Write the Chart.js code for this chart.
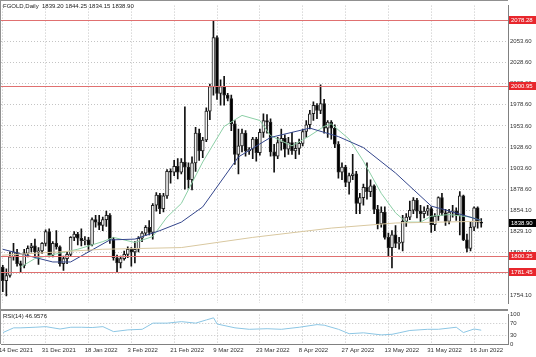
<!DOCTYPE html>
<html>
<head>
<meta charset="utf-8">
<script src="https://cdn.jsdelivr.net/npm/chart.js@4.4.1/dist/chart.umd.min.js"></script>
<style>
  html, body { margin: 0; padding: 0; background: #fff; }
  #wrap { position: relative; width: 536px; height: 357px; overflow: hidden; }
  #mainChart { position: absolute; left: 0; top: 0; }
  #rsiChart { position: absolute; left: 0; top: 309px; }
</style>
</head>
<body>
<div id="wrap">
  <canvas id="mainChart" width="536" height="309"></canvas>
  <canvas id="rsiChart" width="536" height="48"></canvas>
</div>
<script>
const xTickLabels = ["14 Dec 2021", "31 Dec 2021", "18 Jan 2022", "3 Feb 2022", "21 Feb 2022", "9 Mar 2022",
  "23 Mar 2022", "8 Apr 2022", "27 Apr 2022", "13 May 2022", "31 May 2022", "16 Jun 2022"];
const BARS_PER_LABEL = 12;
const EMPTY_SLOTS = 7;

// daily candles, 14 Dec 2021 .. 20 Jun 2022
const opens = [
  1787, 1771, 1777, 1799, 1804, 1791, 1789, 1803, 1810, 1812, 1805, 1806, 1815, 1829, 1801, 1815, 1811, 1791, 1797, 1802,
  1822, 1826, 1821, 1818, 1819, 1813, 1843, 1840, 1836, 1843, 1848, 1820, 1798, 1792, 1797, 1802, 1808, 1805, 1808, 1821,
  1827, 1834, 1828, 1860, 1872, 1856, 1871, 1900, 1899, 1906, 1899, 1911, 1905, 1890, 1910, 1945, 1924, 1937, 1971, 2000,
  2058, 1992, 2000, 1990, 1986, 1956, 1920, 1930, 1945, 1924, 1926, 1938, 1922, 1946, 1960, 1958, 1923, 1918, 1934, 1939,
  1926, 1934, 1924, 1927, 1933, 1947, 1955, 1968, 1978, 1972, 1980, 1951, 1958, 1951, 1932, 1899, 1905, 1887, 1895, 1897,
  1862, 1869, 1881, 1876, 1883, 1855, 1838, 1852, 1822, 1810, 1825, 1815, 1816, 1841, 1846, 1854, 1866, 1853, 1850, 1853,
  1856, 1837, 1847, 1869, 1851, 1841, 1852, 1853, 1848, 1871, 1819, 1809, 1834, 1857, 1839.20
];
const highs = [
  1789, 1785, 1805, 1815, 1808, 1794, 1808, 1812, 1815, 1820, 1810, 1816, 1831, 1832, 1817, 1830, 1812, 1800, 1805, 1823,
  1829, 1828, 1832, 1823, 1822, 1845, 1848, 1848, 1846, 1853, 1850, 1822, 1801, 1800, 1806, 1811, 1810, 1817, 1823, 1829,
  1836, 1842, 1862, 1875, 1874, 1874, 1902, 1903, 1913, 1915, 1915, 1976, 1910, 1917, 1952, 1950, 1940, 1975, 2003, 2078,
  2060, 2008, 2012, 1992, 1990, 1960, 1950, 1950, 1948, 1928, 1940, 1940, 1950, 1968, 1967, 1962, 1932, 1940, 1950, 1943,
  1940, 1946, 1934, 1938, 1950, 1960, 1972, 1982, 1980, 2002, 1985, 1960, 1960, 1955, 1935, 1910, 1907, 1898, 1920, 1900,
  1874, 1885, 1910, 1890, 1884, 1860, 1858, 1858, 1827, 1830, 1836, 1822, 1848, 1850, 1865, 1869, 1868, 1860, 1858, 1860,
  1858, 1850, 1870, 1874, 1855, 1855, 1860, 1857, 1876, 1872, 1826, 1840, 1858, 1858, 1844.25
];
const lows = [
  1758, 1753, 1775, 1795, 1788, 1781, 1786, 1799, 1805, 1799, 1790, 1803, 1812, 1799, 1799, 1808, 1788, 1783, 1791, 1800,
  1818, 1813, 1812, 1813, 1806, 1812, 1834, 1831, 1830, 1835, 1815, 1795, 1781, 1786, 1795, 1798, 1788, 1792, 1805, 1817,
  1824, 1825, 1820, 1853, 1850, 1852, 1868, 1886, 1895, 1891, 1897, 1879, 1880, 1878, 1900, 1913, 1916, 1935, 1961, 1990,
  1985, 1978, 1978, 1983, 1948, 1908, 1897, 1923, 1918, 1920, 1915, 1912, 1919, 1940, 1945, 1918, 1899, 1915, 1925, 1917,
  1920, 1920, 1915, 1920, 1930, 1940, 1950, 1960, 1962, 1968, 1945, 1940, 1938, 1928, 1892, 1890, 1882, 1873, 1890, 1850,
  1850, 1860, 1867, 1870, 1850, 1832, 1834, 1820, 1800, 1786, 1810, 1808, 1806, 1835, 1843, 1850, 1845, 1840, 1845, 1848,
  1828, 1830, 1842, 1848, 1836, 1838, 1846, 1842, 1825, 1818, 1805, 1806, 1830, 1833, 1834.15
];
const closes = [
  1771, 1777, 1799, 1805, 1791, 1789, 1803, 1809, 1812, 1805, 1806, 1815, 1829, 1801, 1815, 1811, 1791, 1797, 1802, 1822,
  1826, 1821, 1818, 1819, 1813, 1843, 1840, 1836, 1843, 1848, 1820, 1798, 1792, 1797, 1802, 1808, 1805, 1808, 1821, 1827,
  1834, 1828, 1860, 1872, 1856, 1871, 1900, 1899, 1906, 1899, 1911, 1905, 1890, 1910, 1945, 1924, 1937, 1971, 2000, 2058,
  1992, 2000, 1990, 1986, 1956, 1920, 1930, 1945, 1924, 1926, 1938, 1922, 1946, 1960, 1958, 1923, 1918, 1934, 1939, 1926,
  1934, 1924, 1927, 1933, 1947, 1955, 1968, 1978, 1972, 1980, 1951, 1958, 1951, 1932, 1899, 1905, 1887, 1895, 1897, 1862,
  1869, 1881, 1876, 1883, 1855, 1838, 1852, 1822, 1810, 1825, 1815, 1816, 1841, 1846, 1854, 1866, 1853, 1850, 1853, 1856,
  1837, 1847, 1869, 1851, 1841, 1852, 1853, 1848, 1871, 1819, 1809, 1834, 1857, 1840, 1838.90
];

// moving averages and RSI at some bars (bar index, value)
const maFastBars = [5, 9, 21, 28, 31, 37, 42, 46, 50, 56, 62, 67, 72, 75, 81, 86, 90, 92, 97, 101, 106, 110, 113, 117, 120, 125, 131, 134];
const maFastVals = [1787, 1797, 1808, 1817, 1822, 1816, 1823, 1846, 1862, 1911, 1953, 1966, 1960, 1942, 1930, 1942, 1953, 1956, 1938, 1912, 1874, 1851, 1840, 1840, 1847, 1849, 1846, 1842];
const maSlowBars = [0, 14, 19, 30, 37, 44, 50, 56, 66, 75, 86, 94, 101, 110, 120, 126, 134];
const maSlowVals = [1808, 1793, 1793, 1819, 1820, 1830, 1840, 1858, 1917, 1940, 1951, 1941, 1928, 1898, 1859, 1852, 1842];
const ma200Bars = [0, 28, 50, 70, 92, 110, 134];
const ma200Vals = [1801, 1808, 1810, 1822, 1833, 1839, 1841];
const rsiBars = [0, 3, 5, 9, 12, 14, 16, 19, 22, 25, 28, 31, 35, 39, 42, 46, 50, 54, 57, 59, 60, 65, 69, 74, 78, 83, 88, 90, 94, 97, 101, 106, 109, 111, 114, 119, 122, 127, 129, 132, 134];
const rsiVals = [39, 55, 55, 57, 59, 55, 51, 57, 57, 56, 59, 42, 48, 50, 71, 71, 76, 71, 82, 89, 68, 55, 50, 52, 50, 57, 66, 64, 50, 35, 38, 31, 33, 38, 46, 50, 50, 57, 39, 51, 47];

const priceTicks = [2053.60, 2028.60, 2003.60, 1978.60, 1953.60, 1928.60, 1903.60, 1878.60, 1854.10, 1829.10, 1804.10, 1779.10, 1754.10];
const levelLines = [2078.28, 2000.95, 1800.35, 1781.45];
const rsiTicks = [100, 70, 30, 0];
const rsiLevels = [70, 30];
const lastPrice = 1838.90;
const titleText = "FGOLD,Daily  1839.20 1844.25 1834.15 1838.90";
const rsiText = "RSI(14) 46.9576";

Chart.defaults.font.family = "'Liberation Sans', 'DejaVu Sans', sans-serif";
Chart.defaults.font.size = 6;
Chart.defaults.color = "#333";

const slotCount = opens.length + EMPTY_SLOTS;
const categories = Array.from({ length: slotCount }, (_, i) =>
  i % BARS_PER_LABEL === 0 ? (xTickLabels[i / BARS_PER_LABEL] || "") : "");

function sparse(bars, vals) {
  const out = new Array(slotCount).fill(null);
  bars.forEach((bar, k) => { out[bar] = vals[k]; });
  return out;
}

const GRID = "#c4c4c4";
const AXIS_W = 28;

function xScale(showLabels) {
  return {
    type: "category",
    labels: categories,
    offset: true,
    grid: {
      offset: false,
      drawTicks: false,
      color: ctx => (ctx.index % BARS_PER_LABEL === 0 ? GRID : "transparent")
    },
    border: { display: showLabels, color: "#808080", dash: [1, 2] },
    ticks: {
      display: showLabels,
      autoSkip: false,
      maxRotation: 0,
      align: "start",
      labelOffset: -4,
      padding: 3,
      callback: (value, index) => categories[index]
    },
    afterFit: scale => { scale.height = showLabels ? 13 : 0; }
  };
}

function lineSet(data, color, yAxisID) {
  return {
    type: "line",
    data: data,
    yAxisID: yAxisID,
    borderColor: color,
    borderWidth: 1,
    pointRadius: 0,
    spanGaps: true,
    tension: 0,
    order: 1
  };
}

function labelBox(ctx, y, text, fill) {
  ctx.fillStyle = fill;
  ctx.fillRect(509, Math.round(y) - 4, 27, 8);
  ctx.fillStyle = "#fff";
  ctx.textAlign = "left";
  ctx.textBaseline = "middle";
  ctx.fillText(text, 511, Math.round(y));
}

const mainOverlay = {
  id: "mainOverlay",
  afterDatasetsDraw(chart) {
    const { ctx, chartArea, scales } = chart;
    ctx.save();
    ctx.strokeStyle = "#e07070";
    ctx.lineWidth = 1;
    levelLines.forEach(level => {
      const y = Math.round(scales.y.getPixelForValue(level)) + 0.5;
      ctx.beginPath();
      ctx.moveTo(chartArea.left, y);
      ctx.lineTo(chartArea.right, y);
      ctx.stroke();
    });
    ctx.restore();
  },
  afterDraw(chart) {
    const { ctx, chartArea, scales } = chart;
    ctx.save();
    ctx.strokeStyle = "#909090";
    ctx.lineWidth = 1;
    ctx.beginPath();
    ctx.moveTo(0.5, 0);
    ctx.lineTo(0.5, chart.height);
    ctx.moveTo(0, 0.5);
    ctx.lineTo(chartArea.right, 0.5);
    ctx.stroke();

    ctx.font = "6px 'Liberation Sans', sans-serif";
    levelLines.forEach(level => {
      labelBox(ctx, scales.y.getPixelForValue(level), level.toFixed(2), "#e8262c");
    });
    labelBox(ctx, scales.y.getPixelForValue(lastPrice), lastPrice.toFixed(2), "#000");

    ctx.fillStyle = "#222";
    ctx.textAlign = "left";
    ctx.textBaseline = "middle";
    ctx.fillText(titleText, 3, 6);
    ctx.restore();
  }
};

new Chart(document.getElementById("mainChart"), {
  type: "bar",
  data: {
    labels: categories,
    datasets: [
      {
        data: lows.map((low, i) => [low, highs[i]]),
        backgroundColor: "#111",
        barThickness: 1,
        grouped: false,
        order: 3
      },
      {
        data: opens.map((open, i) => [open, closes[i]]),
        backgroundColor: opens.map((open, i) => (closes[i] >= open ? "#f4f4f4" : "#000")),
        borderColor: "#222",
        borderWidth: 1,
        borderSkipped: false,
        barThickness: 3,
        minBarLength: 1,
        grouped: false,
        order: 2
      },
      lineSet(sparse(ma200Bars, ma200Vals), "#d9c8a0", "y"),
      lineSet(sparse(maSlowBars, maSlowVals), "#34468c", "y"),
      lineSet(sparse(maFastBars, maFastVals), "#8ccfa6", "y")
    ]
  },
  options: {
    responsive: false,
    animation: false,
    events: [],
    layout: { padding: { top: 1, left: 1, right: 0, bottom: 1 } },
    plugins: { legend: { display: false }, tooltip: { enabled: false } },
    scales: {
      x: xScale(false),
      y: {
        position: "right",
        min: 1744.1,
        max: 2095.6,
        afterBuildTicks: scale => { scale.ticks = priceTicks.map(v => ({ value: v })); },
        ticks: { callback: v => v.toFixed(2), padding: 2, color: "#333", autoSkip: false },
        grid: { color: GRID, drawTicks: false },
        border: { display: true, color: "#808080", dash: [1, 2] },
        afterFit: scale => { scale.width = AXIS_W; }
      }
    }
  },
  plugins: [mainOverlay]
});

const rsiOverlay = {
  id: "rsiOverlay",
  afterDraw(chart) {
    const { ctx, chartArea } = chart;
    ctx.save();
    ctx.fillStyle = "#8a8a8a";
    ctx.fillRect(0, 0, chartArea.right, 2);
    ctx.strokeStyle = "#909090";
    ctx.lineWidth = 1;
    ctx.beginPath();
    ctx.moveTo(0.5, 0);
    ctx.lineTo(0.5, chartArea.bottom);
    ctx.stroke();
    ctx.font = "6px 'Liberation Sans', sans-serif";
    ctx.fillStyle = "#222";
    ctx.textAlign = "left";
    ctx.textBaseline = "middle";
    ctx.fillText(rsiText, 3, 7);
    ctx.restore();
  }
};

new Chart(document.getElementById("rsiChart"), {
  type: "line",
  data: {
    labels: categories,
    datasets: [lineSet(sparse(rsiBars, rsiVals), "#8cc6e4", "y")]
  },
  options: {
    responsive: false,
    animation: false,
    events: [],
    layout: { padding: { top: 2, left: 1, right: 0, bottom: 0 } },
    plugins: { legend: { display: false }, tooltip: { enabled: false } },
    scales: {
      x: xScale(true),
      y: {
        position: "right",
        min: 0,
        max: 100,
        afterBuildTicks: scale => { scale.ticks = rsiTicks.map(v => ({ value: v })); },
        ticks: { padding: 2, color: "#333", autoSkip: false },
        grid: {
          drawTicks: false,
          color: ctx => (rsiLevels.includes(ctx.tick && ctx.tick.value) ? GRID : "transparent")
        },
        border: { display: true, color: "#808080", dash: [1, 2] },
        afterFit: scale => { scale.width = AXIS_W; }
      }
    }
  },
  plugins: [rsiOverlay]
});
</script>
</body>
</html>
